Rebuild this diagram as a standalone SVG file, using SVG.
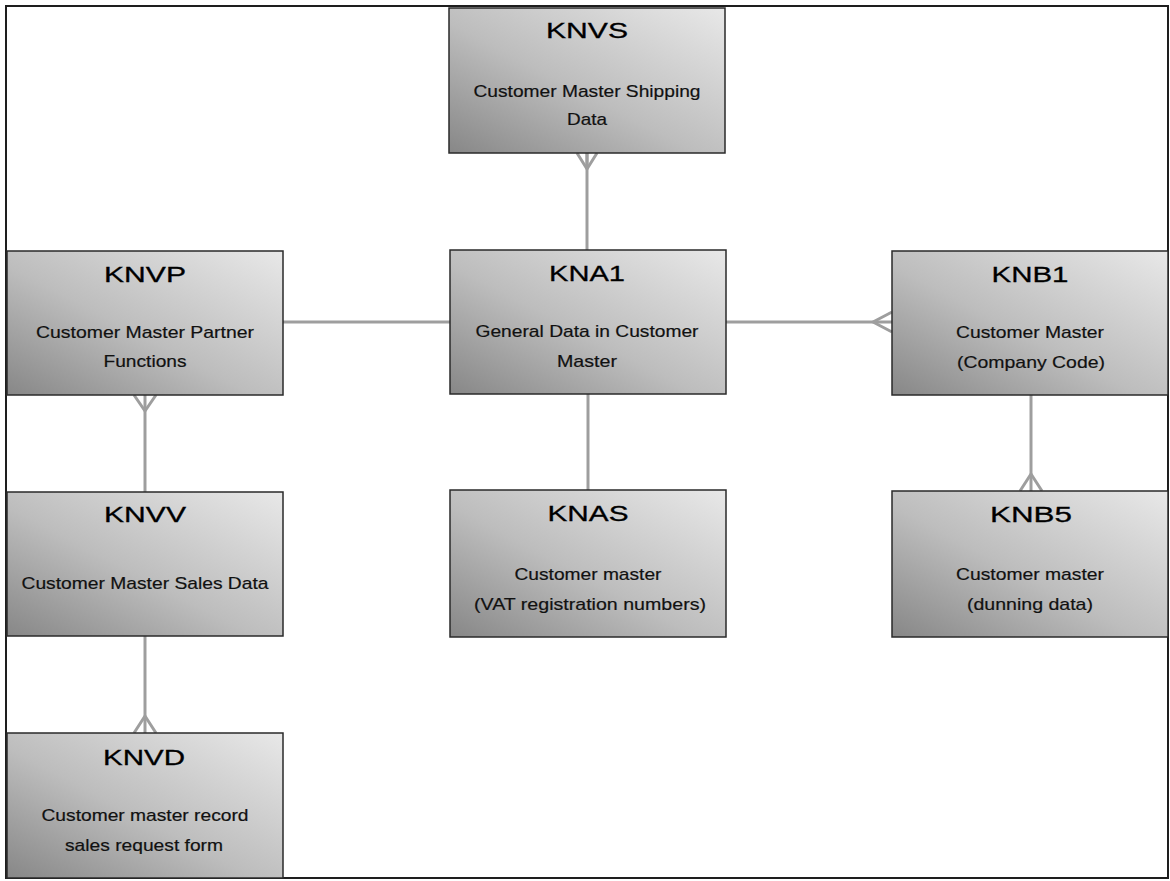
<svg xmlns="http://www.w3.org/2000/svg" width="1170" height="881" viewBox="0 0 1170 881">
  <style>
    .box { fill: url(#boxFill); stroke: #2a2a2a; stroke-width: 1.5; }
    .title { font-family: "Liberation Sans", Arial, sans-serif; font-size: 22px; fill: #000; stroke: #000; stroke-width: 0.3; text-anchor: middle; }
    .sub { font-family: "Liberation Sans", Arial, sans-serif; font-size: 17px; fill: #111; stroke: #111; stroke-width: 0.2; text-anchor: middle; }
    .link { stroke: #9e9e9e; stroke-width: 3; fill: none; }
    .crow { stroke: #9e9e9e; stroke-width: 3; fill: none; stroke-linejoin: round; }
  </style>
  <defs>
    <linearGradient id="boxFill" x1="0" y1="1" x2="1" y2="0">
      <stop offset="0" stop-color="#878787"/>
      <stop offset="0.45" stop-color="#bdbdbd"/>
      <stop offset="1" stop-color="#e8e8e8"/>
    </linearGradient>
  </defs>

  <rect x="0" y="0" width="1170" height="881" fill="#ffffff"/>
  <!-- outer frame -->
  <rect x="6" y="6" width="1162" height="872" fill="none" stroke="#1e1e1e" stroke-width="2"/>

  <!-- relationships -->
  <g id="connectors">
    <line class="link" x1="587" y1="153" x2="587" y2="250"/>
    <polyline class="crow" points="577,153 587,169 597,153"/>
    <line class="crow" x1="587" y1="153" x2="587" y2="169"/>

    <line class="link" x1="283" y1="322" x2="450" y2="322"/>

    <line class="link" x1="726" y1="322" x2="892" y2="322"/>
    <polyline class="crow" points="892,312 873,322 892,332"/>

    <line class="link" x1="588" y1="394" x2="588" y2="490"/>

    <line class="link" x1="145" y1="395" x2="145" y2="492"/>
    <polyline class="crow" points="134,395 145,411 156,395"/>

    <line class="link" x1="145" y1="636" x2="145" y2="733"/>
    <polyline class="crow" points="134,733 145,716 156,733"/>

    <line class="link" x1="1031" y1="395" x2="1031" y2="491"/>
    <polyline class="crow" points="1020,491 1031,474 1042,491"/>
  </g>

  <g id="KNVS">
    <rect class="box" x="449" y="8" width="276" height="145"/>
    <text class="title" x="587" y="38" textLength="82" lengthAdjust="spacingAndGlyphs">KNVS</text>
    <text class="sub" x="587" y="97" textLength="227" lengthAdjust="spacingAndGlyphs">Customer Master Shipping</text>
    <text class="sub" x="587" y="125" textLength="40" lengthAdjust="spacingAndGlyphs">Data</text>
  </g>

  <g id="KNVP">
    <rect class="box" x="7" y="251" width="276" height="144"/>
    <text class="title" x="145" y="282" textLength="82" lengthAdjust="spacingAndGlyphs">KNVP</text>
    <text class="sub" x="145" y="338" textLength="218" lengthAdjust="spacingAndGlyphs">Customer Master Partner</text>
    <text class="sub" x="145" y="367" textLength="83" lengthAdjust="spacingAndGlyphs">Functions</text>
  </g>

  <g id="KNA1">
    <rect class="box" x="450" y="250" width="276" height="144"/>
    <text class="title" x="587" y="281" textLength="76" lengthAdjust="spacingAndGlyphs">KNA1</text>
    <text class="sub" x="587" y="337" textLength="223" lengthAdjust="spacingAndGlyphs">General Data in Customer</text>
    <text class="sub" x="587" y="367" textLength="60" lengthAdjust="spacingAndGlyphs">Master</text>
  </g>

  <g id="KNB1">
    <rect class="box" x="892" y="251" width="276" height="144"/>
    <text class="title" x="1030" y="282" textLength="77" lengthAdjust="spacingAndGlyphs">KNB1</text>
    <text class="sub" x="1030" y="338" textLength="148" lengthAdjust="spacingAndGlyphs">Customer Master</text>
    <text class="sub" x="1031" y="368" textLength="148" lengthAdjust="spacingAndGlyphs">(Company Code)</text>
  </g>

  <g id="KNVV">
    <rect class="box" x="7" y="492" width="276" height="144"/>
    <text class="title" x="145" y="522" textLength="82" lengthAdjust="spacingAndGlyphs">KNVV</text>
    <text class="sub" x="145" y="589" textLength="247" lengthAdjust="spacingAndGlyphs">Customer Master Sales Data</text>
  </g>

  <g id="KNAS">
    <rect class="box" x="450" y="490" width="276" height="147"/>
    <text class="title" x="588" y="521" textLength="81" lengthAdjust="spacingAndGlyphs">KNAS</text>
    <text class="sub" x="588" y="580" textLength="147" lengthAdjust="spacingAndGlyphs">Customer master</text>
    <text class="sub" x="590" y="610" textLength="232" lengthAdjust="spacingAndGlyphs">(VAT registration numbers)</text>
  </g>

  <g id="KNB5">
    <rect class="box" x="892" y="491" width="276" height="146"/>
    <text class="title" x="1031" y="522" textLength="82" lengthAdjust="spacingAndGlyphs">KNB5</text>
    <text class="sub" x="1030" y="580" textLength="148" lengthAdjust="spacingAndGlyphs">Customer master</text>
    <text class="sub" x="1030" y="610" textLength="126" lengthAdjust="spacingAndGlyphs">(dunning data)</text>
  </g>

  <g id="KNVD">
    <rect class="box" x="7" y="733" width="276" height="145"/>
    <text class="title" x="144" y="765" textLength="82" lengthAdjust="spacingAndGlyphs">KNVD</text>
    <text class="sub" x="145" y="821" textLength="207" lengthAdjust="spacingAndGlyphs">Customer master record</text>
    <text class="sub" x="144" y="851" textLength="158" lengthAdjust="spacingAndGlyphs">sales request form</text>
  </g>
</svg>
